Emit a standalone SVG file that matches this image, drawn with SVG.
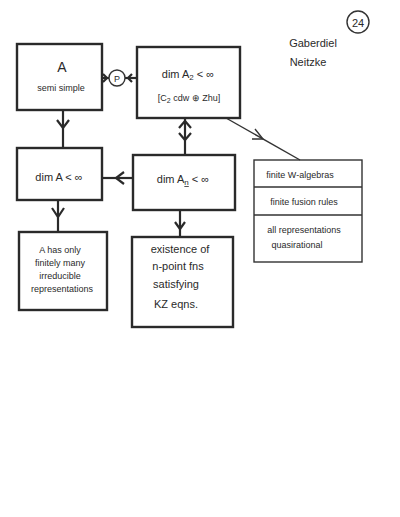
<svg xmlns="http://www.w3.org/2000/svg" width="400" height="517" viewBox="0 0 400 517">
<defs>
<style>
.box{fill:none;stroke:#2a2a2a;stroke-width:2.4}
.thin{fill:none;stroke:#333;stroke-width:1.4}
.ln{fill:none;stroke:#2a2a2a;stroke-width:2.2}
.t{font-family:"Liberation Sans",Arial,sans-serif;fill:#2a2a2a;text-anchor:middle}
.s{font-size:9px}
.m{font-size:11px}
</style>
<marker id="ah" viewBox="0 0 10 10" refX="5" refY="5" markerWidth="6" markerHeight="6" orient="auto">
<path d="M0,0 L6,5 L0,10" fill="none" stroke="#2a2a2a" stroke-width="2"/>
</marker>
</defs>
<rect width="400" height="517" fill="#fff"/>
<g id="header">
<circle cx="358" cy="22" r="11" class="thin"/>
<text x="358" y="27" class="t m">24</text>
<text x="313" y="47" class="t m">Gaberdiel</text>
<text x="308" y="66" class="t m">Neitzke</text>
</g>
<g id="connectors">
<line x1="102" y1="78" x2="109" y2="78" class="ln" stroke-width="1.4"/>
<line x1="125" y1="78" x2="137" y2="78" class="ln" stroke-width="1.4"/>
<path d="M103,74 L107,78 L103,82" class="ln" stroke-width="1.4"/>
<path d="M132,74 L128,78 L132,82" class="ln" stroke-width="1.4"/>
<line x1="63" y1="110" x2="63" y2="148" class="ln"/>
<path d="M57,120 L63,128 L69,120" class="ln"/>
<line x1="185" y1="118" x2="185" y2="155" class="ln"/>
<path d="M179,128 L185,121 L191,128" class="ln"/>
<path d="M179,133 L185,140 L191,133" class="ln"/>
<line x1="133" y1="178" x2="102" y2="178" class="ln"/>
<path d="M124,172 L116,178 L124,184" class="ln"/>
<line x1="226" y1="118" x2="300" y2="160" class="thin"/>
<path d="M255,129 L263,139 L252,139" class="thin"/>
<line x1="58" y1="200" x2="58" y2="232" class="ln"/>
<path d="M52,208 L58,217 L64,208" class="ln"/>
<line x1="180" y1="210" x2="180" y2="237" class="ln"/>
<path d="M175,222 L180,229 L185,222" class="ln"/>
</g>
<g id="nodeA">
<rect x="17" y="44" width="85" height="66" class="box"/>
<text x="62" y="72" class="t" font-size="14">A</text>
<text x="61" y="91" class="t s">semi simple</text>
</g>
<g id="nodeP">
<circle cx="117" cy="78" r="8" class="thin"/>
<text x="117" y="82" class="t s">P</text>
</g>
<g id="nodeA2">
<rect x="137" y="47" width="103" height="71" class="box"/>
<text x="188" y="78" class="t m">dim A<tspan font-size="8" dy="2">2</tspan><tspan dy="-2"> &lt; ∞</tspan></text>
<text x="189" y="101" class="t s" fill="#555">[C<tspan font-size="7" dy="2">2</tspan><tspan dy="-2"> cdw ⊕ Zhu]</tspan></text>
</g>
<g id="nodeDimA">
<rect x="17" y="148" width="85" height="52" class="box"/>
<text x="59" y="181" class="t m">dim A &lt; ∞</text>
</g>
<g id="nodeDimAn">
<rect x="133" y="155" width="102" height="55" class="box"/>
<text x="183" y="183" class="t m">dim A<tspan font-size="8" dy="2" text-decoration="underline">n</tspan><tspan dy="-2"> &lt; ∞</tspan></text>
</g>
<g id="nodeFinite">
<rect x="254" y="160" width="108" height="102" class="thin"/>
<line x1="254" y1="187" x2="362" y2="187" class="thin"/>
<line x1="254" y1="215" x2="362" y2="215" class="thin"/>
<text x="300" y="178" class="t s">finite W-algebras</text>
<text x="304" y="205" class="t s">finite fusion rules</text>
<text x="304" y="233" class="t s">all representations</text>
<text x="297" y="248" class="t s">quasirational</text>
</g>
<g id="nodeIrred">
<rect x="19" y="232" width="88" height="78" class="box"/>
<text x="60" y="253" class="t s">A has only</text>
<text x="60" y="266" class="t s">finitely many</text>
<text x="60" y="279" class="t s">irreducible</text>
<text x="62" y="292" class="t s">representations</text>
</g>
<g id="nodeKZ">
<rect x="132" y="237" width="101" height="90" class="box"/>
<text x="180" y="253" class="t m">existence of</text>
<text x="178" y="270" class="t m">n-point fns</text>
<text x="176" y="288" class="t m">satisfying</text>
<text x="176" y="308" class="t m">KZ eqns.</text>
</g>
</svg>
